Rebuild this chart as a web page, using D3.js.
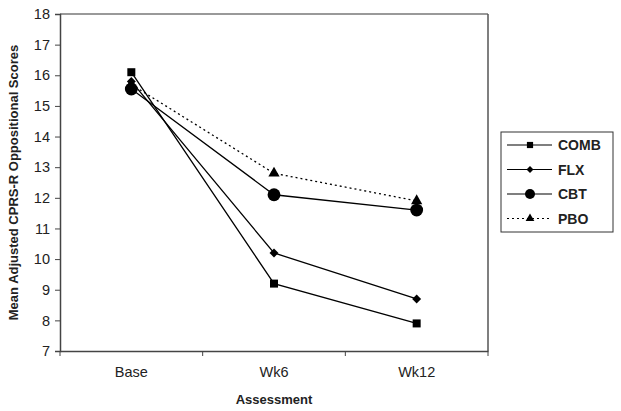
<!DOCTYPE html>
<html><head><meta charset="utf-8">
<script src="https://cdn.jsdelivr.net/npm/d3@7"></script>
<style>body{margin:0;background:#fff;} text{font-family:"Liberation Sans",Arial,sans-serif;}</style>
</head><body><svg id="c" width="621" height="411"></svg>
<script>
const categories = ["Base", "Wk6", "Wk12"];
const seriesNames = ["COMB", "FLX", "CBT", "PBO"];
const COMB = [16.1, 9.2, 7.9];
const FLX = [15.8, 10.2, 8.7];
const CBT = [15.55, 12.1, 11.6];
const PBO = [15.7, 12.8, 11.9];
const yTicks = [7,8,9,10,11,12,13,14,15,16,17,18];
const symDiamond = {draw(ctx,size){const r=Math.sqrt(size/2);ctx.moveTo(0,-r);ctx.lineTo(r,0);ctx.lineTo(0,r);ctx.lineTo(-r,0);ctx.closePath();}};
const series = [
  {name:"COMB", values:COMB, sym:d3.symbolSquare, size:64, dash:null},
  {name:"FLX", values:FLX, sym:symDiamond, size:40, dash:null},
  {name:"CBT", values:CBT, sym:d3.symbolCircle, size:130, dash:null},
  {name:"PBO", values:PBO, sym:d3.symbolTriangle, size:55, dash:"2,3"}
];
const svg = d3.select("#c");
const L=60, R=488, T=14, B=351;
const x = d3.scaleBand().domain(categories).range([L,R]);
const y = d3.scaleLinear().domain([7,18]).range([B,T]);

svg.append("line").attr("x1",L).attr("x2",R).attr("y1",T).attr("y2",T).attr("stroke","#777").attr("stroke-width",1.5);
svg.append("line").attr("x1",R).attr("x2",R).attr("y1",T).attr("y2",B).attr("stroke","#555").attr("stroke-width",1.5);

const ya = svg.append("g").attr("transform",`translate(${L},0)`)
  .call(d3.axisLeft(y).tickValues(yTicks).tickSize(5).tickPadding(5));
const xa = svg.append("g").attr("transform",`translate(0,${B})`)
  .call(d3.axisBottom(x).tickSize(0).tickPadding(16));
[ya,xa].forEach(g=>{
  g.select(".domain").attr("stroke","#444").attr("stroke-width",1.5);
  g.selectAll("text").attr("font-size",14.5).attr("fill","#222").attr("font-family","Liberation Sans, Arial, sans-serif");
  g.selectAll("line").attr("stroke","#444");
});
const bounds = [L].concat(categories.map(c=>x(c)+x.bandwidth()));
svg.selectAll(".xt").data(bounds).enter().append("line")
  .attr("x1",d=>d).attr("x2",d=>d).attr("y1",B).attr("y2",B+5).attr("stroke","#444").attr("stroke-width",1);

svg.append("text").attr("x",(L+R)/2).attr("y",404).attr("text-anchor","middle")
  .attr("font-size",13).attr("font-weight","bold").attr("fill","#222").text("Assessment");
svg.append("text").attr("transform",`translate(18,${(T+B)/2}) rotate(-90)`).attr("text-anchor","middle")
  .attr("font-size",13).attr("font-weight","bold").attr("fill","#222").text("Mean Adjusted CPRS-R Oppositional Scores");

const cx = c => x(c)+x.bandwidth()/2;
const line = d3.line().x((d,i)=>cx(categories[i])).y(d=>y(d));
series.forEach(s=>{
  svg.append("path").datum(s.values).attr("d",line).attr("fill","none")
    .attr("stroke","#000").attr("stroke-width",1.3).attr("stroke-dasharray",s.dash);
});
series.slice().reverse().forEach(s=>{
  svg.selectAll(null).data(s.values).enter().append("path")
    .attr("d",d3.symbol().type(s.sym).size(s.size))
    .attr("transform",(d,i)=>`translate(${cx(categories[i])},${y(d)})`).attr("fill","#000");
});

const lg = svg.append("g");
lg.append("rect").attr("x",501).attr("y",132).attr("width",112).attr("height",100)
  .attr("fill","#fff").attr("stroke","#333").attr("stroke-width",1);
series.forEach((s,i)=>{
  const yy = 145+i*24.5;
  lg.append("line").attr("x1",507).attr("x2",552).attr("y1",yy).attr("y2",yy)
    .attr("stroke","#000").attr("stroke-width",1.2).attr("stroke-dasharray",s.dash);
  lg.append("path").attr("d",d3.symbol().type(s.sym).size(s.size*0.6)).attr("transform",`translate(530,${yy})`).attr("fill","#000");
  lg.append("text").attr("x",558).attr("y",yy+5).attr("font-size",14).attr("font-weight","bold").attr("fill","#222").text(s.name);
});
</script></body></html>
